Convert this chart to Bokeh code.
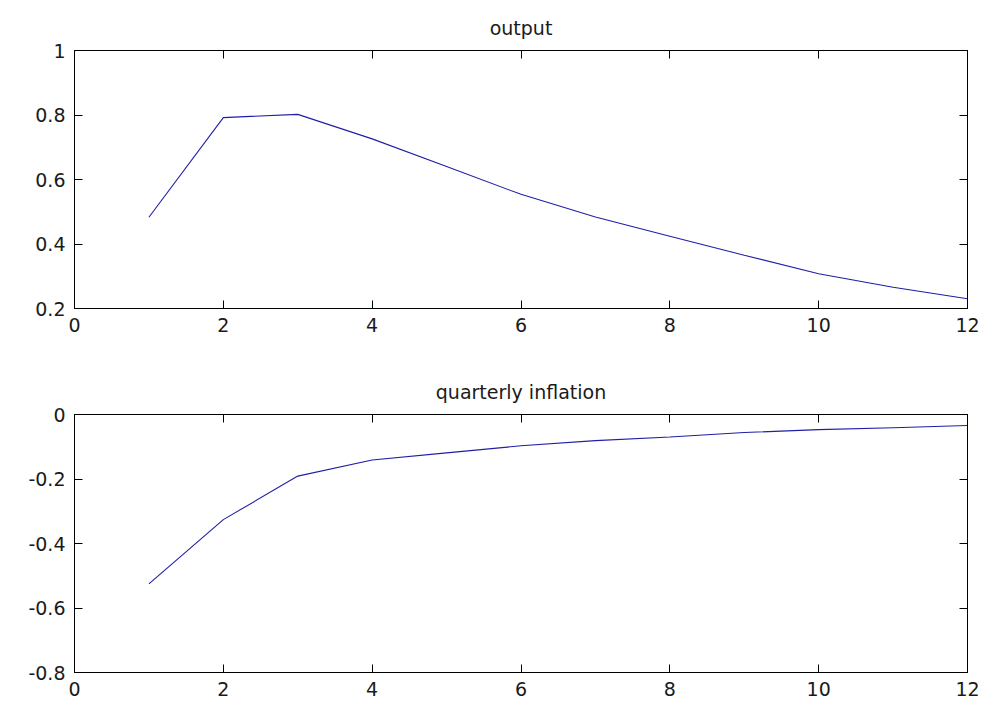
from bokeh.plotting import figure
from bokeh.layouts import column
from bokeh.models import Range1d, LinearAxis, FixedTicker
from bokeh.embed import file_html
from bokeh.resources import INLINE

# Impulse responses over 12 quarters
periods = [1, 2, 3, 4, 5, 6, 7, 8, 9, 10, 11, 12]
output = [0.483, 0.792, 0.802, 0.726, 0.640, 0.554, 0.484, 0.424, 0.365, 0.308, 0.266, 0.230]
inflation = [-0.525, -0.326, -0.191, -0.141, -0.119, -0.097, -0.081, -0.070, -0.056, -0.047, -0.041, -0.034]

x_ticks = [0, 2, 4, 6, 8, 10, 12]
out_ticks = [0.2, 0.4, 0.6, 0.8, 1.0]
out_tick_labels = ["0.2", "0.4", "0.6", "0.8", "1"]
inf_ticks = [-0.8, -0.6, -0.4, -0.2, 0.0]
inf_tick_labels = ["-0.8", "-0.6", "-0.4", "-0.2", "0"]

FONT = "DejaVu Sans"
FSIZE = "19px"
TEXT = "#1a1a1a"
LINE = "#1f1fa6"


def style_axis(ax, ticks, labels=None, show_labels=True):
    ax.ticker = FixedTicker(ticks=ticks)
    ax.major_tick_in = 8
    ax.major_tick_out = 0
    ax.minor_tick_in = 0
    ax.minor_tick_out = 0
    ax.axis_line_color = "black"
    ax.major_tick_line_color = "black"
    ax.major_label_text_font = FONT
    ax.major_label_text_font_size = FSIZE
    ax.major_label_text_color = TEXT
    if show_labels:
        if labels is not None:
            ax.major_label_overrides = {t: l for t, l in zip(ticks, labels)}
        ax.major_label_standoff = 9
    else:
        # tick marks only on the opposite sides of the box
        ax.major_label_overrides = {t: "" for t in ticks}
        ax.major_label_text_font_size = "1px"
        ax.major_label_standoff = 0


def panel(title, xs, ys, y_lo, y_hi, yticks, ylabels, top, bottom, title_gap):
    p = figure(frame_width=893, frame_height=258,
               min_border_left=74, min_border_right=20,
               min_border_top=top, min_border_bottom=bottom,
               x_range=Range1d(0, 12), y_range=Range1d(y_lo, y_hi),
               output_backend="svg", toolbar_location=None,
               x_axis_location=None, y_axis_location=None)
    p.title.text = title
    p.title.align = "center"
    p.title.text_font = FONT
    p.title.text_font_size = FSIZE
    p.title.text_font_style = "normal"
    p.title.text_color = TEXT
    p.title.standoff = title_gap
    p.grid.visible = False
    p.outline_line_color = "black"
    p.outline_line_width = 1
    p.background_fill_color = "white"
    p.border_fill_color = "white"

    bx = LinearAxis()
    style_axis(bx, x_ticks)
    p.add_layout(bx, "below")
    tx = LinearAxis()
    style_axis(tx, x_ticks, show_labels=False)
    p.add_layout(tx, "above")
    ly = LinearAxis()
    style_axis(ly, yticks, ylabels)
    p.add_layout(ly, "left")
    ry = LinearAxis()
    style_axis(ry, yticks, show_labels=False)
    p.add_layout(ry, "right")

    p.line(xs, ys, line_color=LINE, line_width=1.1)
    return p


p1 = panel("output", periods, output, 0.2, 1.0, out_ticks, out_tick_labels, 50, 45, 24)
p2 = panel("quarterly inflation", periods, inflation, -0.8, 0.0, inf_ticks, inf_tick_labels, 61, 34, 24)

layout = column(p1, p2, spacing=0)
open("out.html", "w").write(file_html(layout, INLINE))
